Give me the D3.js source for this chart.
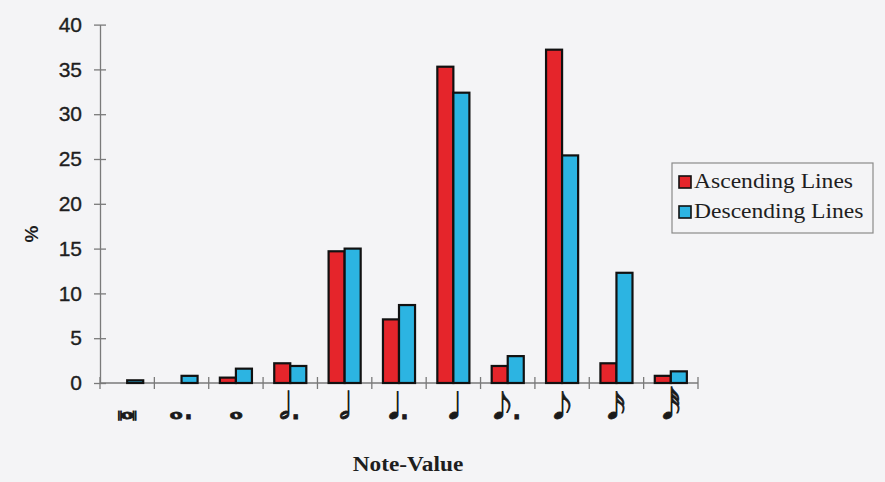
<!DOCTYPE html>
<html>
<head>
<meta charset="utf-8">
<script src="https://cdn.jsdelivr.net/npm/d3@7"></script>
<style>
  html, body { margin: 0; padding: 0; background: #f4f4f6; }
  svg { display: block; }
</style>
</head>
<body>
<svg id="chart" width="885" height="482"></svg>
<script>
// ---- data ----
const categories = ["breve", "dotted whole", "whole", "dotted half", "half", "dotted quarter", "quarter", "dotted eighth", "eighth", "sixteenth", "thirty-second"];
const tickLabels = ["\u{1D15C}", "\u{1D15D}.", "\u{1D15D}", "\u{1D15E}.", "\u{1D15E}", "\u{1D15F}.", "\u{1D15F}", "\u{1D160}.", "\u{1D160}", "\u{1D161}", "\u{1D162}"];
const seriesNames = ["Ascending Lines", "Descending Lines"];
const ascending = [0, 0, 0.6, 2.2, 14.7, 7.1, 35.3, 1.9, 37.2, 2.2, 0.8];
const descending = [0.3, 0.8, 1.6, 1.9, 15.0, 8.7, 32.4, 3.0, 25.4, 12.3, 1.3];
const yTicks = [0, 5, 10, 15, 20, 25, 30, 35, 40];
const colors = ["#e5252b", "#2cb4e2"];

const svg = d3.select("#chart");
const mLeft = 100, mRight = 698, mTop = 24.6, mBottom = 383;

const x = d3.scaleBand().domain(categories).range([mLeft, mRight]).padding(0);
const bw = x.bandwidth();
const x1 = d3.scaleBand().domain(seriesNames).range([bw * 0.205, bw * 0.795]).padding(0);
const y = d3.scaleLinear().domain([0, 40]).range([mBottom, mTop]);

const data = categories.map((c, i) => ({ cat: c, vals: [ascending[i], descending[i]] }));

// y axis
const yAxis = d3.axisLeft(y).tickValues(yTicks).tickSize(0).tickPadding(18);
const gy = svg.append("g").attr("transform", `translate(${mLeft},0)`).call(yAxis);
gy.select(".domain").attr("stroke", "#7a7a7a").attr("stroke-width", 1.3);
gy.selectAll(".tick text").attr("font-family", "Liberation Sans, Arial, sans-serif").attr("font-size", 21)
  .attr("fill", "#1e1e1e").attr("stroke", "#1e1e1e").attr("stroke-width", 0.35);
gy.selectAll(".tick").append("line").attr("x1", -6).attr("x2", 6).attr("stroke", "#7a7a7a").attr("stroke-width", 1.3);

// x axis baseline and ticks at band boundaries
svg.append("line").attr("x1", mLeft).attr("x2", mRight).attr("y1", mBottom).attr("y2", mBottom)
  .attr("stroke", "#7a7a7a").attr("stroke-width", 1.3);
const bounds = categories.map(c => x(c)).concat([mRight]);
svg.append("g").selectAll("line").data(bounds).join("line")
  .attr("x1", d => d).attr("x2", d => d).attr("y1", mBottom - 6).attr("y2", mBottom + 6)
  .attr("stroke", "#7a7a7a").attr("stroke-width", 1.3);

// x tick labels (note values)
svg.append("g").selectAll("text").data(categories).join("text")
  .attr("x", d => x(d) + bw / 2)
  .attr("y", 419)
  .attr("text-anchor", "middle")
  .attr("font-family", "DejaVu Sans, Noto Sans, sans-serif")
  .attr("font-size", 36)
  .attr("fill", "#1a1a1a")
  .attr("stroke", "#1a1a1a").attr("stroke-width", 0.8)
  .text((d, i) => tickLabels[i]);

// bars
const groups = svg.append("g").selectAll("g").data(data).join("g")
  .attr("transform", d => `translate(${x(d.cat)},0)`);
groups.selectAll("rect").data(d => d.vals.map((v, j) => ({ s: seriesNames[j], v, j }))).join("rect")
  .attr("x", d => x1(d.s))
  .attr("y", d => y(d.v))
  .attr("width", x1.bandwidth())
  .attr("height", d => mBottom - y(d.v))
  .attr("fill", d => colors[d.j])
  .attr("stroke", "#111")
  .attr("stroke-width", 2.2)
  .style("display", d => d.v > 0 ? null : "none");

// y title
svg.append("text").attr("transform", "translate(38,234) rotate(-90)")
  .attr("text-anchor", "middle")
  .attr("font-family", "Liberation Sans, Arial, sans-serif").attr("font-weight", "bold").attr("font-size", 19)
  .attr("fill", "#1e1e1e").text("%");

// x title
svg.append("text").attr("transform", "translate(408,471) scale(1.06,1)").attr("text-anchor", "middle")
  .attr("font-family", "Liberation Serif, Times New Roman, serif").attr("font-weight", "bold").attr("font-size", 22)
  .attr("fill", "#1e1e1e").text("Note-Value");

// legend
const lg = svg.append("g");
lg.append("rect").attr("x", 672).attr("y", 163).attr("width", 201).attr("height", 70)
  .attr("fill", "none").attr("stroke", "#8a8a8a").attr("stroke-width", 1.2);
seriesNames.forEach((s, i) => {
  const yy = 176 + i * 30;
  lg.append("rect").attr("x", 679).attr("y", yy).attr("width", 12).attr("height", 12)
    .attr("fill", colors[i]).attr("stroke", "#111").attr("stroke-width", 1.6);
  lg.append("text").attr("transform", `translate(694,${yy + 12}) scale(1.15,1)`)
    .attr("font-family", "Liberation Serif, Times New Roman, serif").attr("font-size", 20.5)
    .attr("fill", "#1e1e1e").text(s);
});
</script>
</body>
</html>
